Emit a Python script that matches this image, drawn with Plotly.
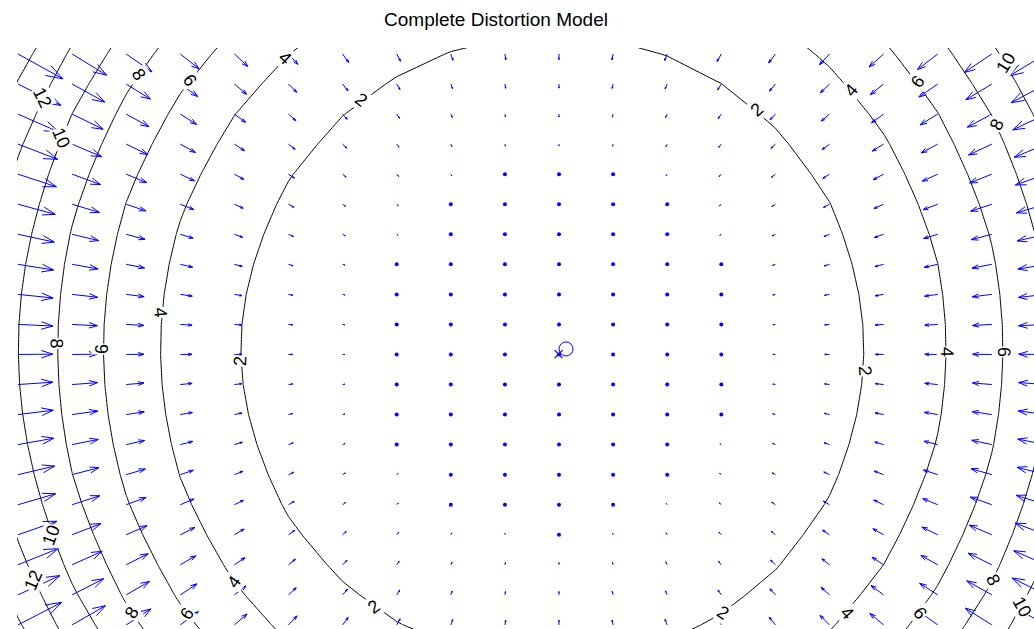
import numpy as np
import plotly.graph_objects as go

# ---------------- data: calibration / distortion model
image_size = [1280, 720]                 # nx, ny  (pixels)
focal_length = [1000.0, 1030.0]          # fc
principal_point = [648.3, 353.4]         # cc  (the 'o')
skew_coeff = 0.0                         # alpha_c
distortion_coeffs = [-0.0396, 0.0, 0.0, -0.000613, 0.0]   # kc = k1 k2 p1 p2 k3
grid_divisions = [20, 20]                # quiver grid in x, y
contour_values = [2, 4, 6, 8, 10, 12, 14]
title_text = "Complete Distortion Model"

# ---------------- layout (screen geometry of the plot area, label rows)
W, H = 1034, 629
PLOT_L, PLOT_T = 17, 48
X_RANGE = [-1.18, 1201.9]
Y_RANGE = [688.9, -7.19]
ARROW_GAIN = 1.08
# screen rows at which each contour level carries a label, per side
LABEL_ROWS = {
    12: [("L", 98), ("L", 580)],
    10: [("L", 138), ("L", 535), ("R", 63), ("R", 607)],
    8: [("L", 74), ("L", 343), ("L", 613), ("R", 125), ("R", 580)],
    6: [("L", 80), ("L", 349), ("L", 614), ("R", 82), ("R", 352), ("R", 613)],
    4: [("L", 58), ("L", 313), ("L", 582), ("R", 90), ("R", 352), ("R", 613)],
    2: [("L", 100), ("L", 361), ("L", 607), ("R", 110), ("R", 371), ("R", 613)],
}

nx, ny = image_size
fc, cc, kc, alpha_c = focal_length, principal_point, distortion_coeffs, skew_coeff


def displacement(px, py):
    """Bouguet complete distortion model: pixel displacement of each point."""
    y = (py - cc[1]) / fc[1]
    x = (px - cc[0]) / fc[0] - alpha_c * y
    r2 = x * x + y * y
    radial = 1 + kc[0] * r2 + kc[1] * r2 ** 2 + kc[4] * r2 ** 3
    dxt = 2 * kc[2] * x * y + kc[3] * (r2 + 2 * x * x)
    dyt = kc[2] * (r2 + 2 * y * y) + 2 * kc[3] * x * y
    xd = x * radial + dxt
    yd = y * radial + dyt
    px2 = fc[0] * (xd + alpha_c * yd) + cc[0]
    py2 = fc[1] * yd + cc[1]
    return px2 - px, py2 - py


def magnitude(px, py):
    du, dv = displacement(px, py)
    return np.sqrt(du * du + dv * dv)


# quiver grid (as in visualize_distortions: 0:nx/20:nx-1)
gx = np.arange(0, nx - 1 + 1e-9, nx / grid_divisions[0])
gy = np.arange(0, ny - 1 + 1e-9, ny / grid_divisions[1])
MX, MY = np.meshgrid(gx, gy)
px, py = MX.ravel(), MY.ravel()
u, v = displacement(px, py)

# MATLAB quiver autoscale
n = np.sqrt(px.size)
delx = (px.max() - px.min()) / n
dely = (py.max() - py.min()) / n
lens = np.sqrt((u ** 2 + v ** 2) / (delx ** 2 + dely ** 2))
scale = 0.9 * 0.9 / lens.max() * ARROW_GAIN
us, vs = u * scale, v * scale

alpha, beta = 0.33, 0.33
sx, sy = [], []
for x0, y0, du, dv in zip(px, py, us, vs):
    sx += [x0, x0 + du, None]
    sy += [y0, y0 + dv, None]
    sx += [x0 + du - alpha * (du + beta * dv), x0 + du, x0 + du - alpha * (du - beta * dv), None]
    sy += [y0 + dv - alpha * (dv - beta * du), y0 + dv, y0 + dv - alpha * (dv + beta * du), None]

short = np.hypot(us, vs) < 1.8

# contour field on the same spacing, extended past the grid edges
cxs = np.arange(-2, grid_divisions[0] + 2) * (nx / grid_divisions[0])
cys = np.arange(-2, grid_divisions[1] + 2) * (ny / grid_divisions[1])
CX, CY = np.meshgrid(cxs, cys)
mag = magnitude(CX, CY)

# screen scales
SX = (W - PLOT_L) / (X_RANGE[1] - X_RANGE[0])
SY = (H - PLOT_T) / (Y_RANGE[0] - Y_RANGE[1])


def row_to_y(row):
    return Y_RANGE[1] + (row - PLOT_T) / SY


BLUE = "#0000ff"
FONT = "Liberation Sans, Arial, Helvetica, sans-serif"

annotations = []
for level, spots in LABEL_ROWS.items():
    for side, row in spots:
        yv = row_to_y(row)
        lo, hi = (-400.0, cc[0]) if side == "L" else (cc[0], 1700.0)
        for _ in range(60):
            mid = 0.5 * (lo + hi)
            f = magnitude(mid, yv) - level
            if side == "L":
                lo, hi = (mid, hi) if f > 0 else (lo, mid)
            else:
                lo, hi = (lo, mid) if f > 0 else (mid, hi)
        xv = 0.5 * (lo + hi)
        h = 0.5
        gxv = (magnitude(xv + h, yv) - magnitude(xv - h, yv)) / (2 * h) / SX
        gyv = (magnitude(xv, yv + h) - magnitude(xv, yv - h)) / (2 * h) / SY
        ang = np.degrees(np.arctan2(gxv, -gyv))
        while ang > 90:
            ang -= 180
        while ang <= -90:
            ang += 180
        # MATLAB clabel rotates by the data-space angle; with 'axis ij' it shows mirrored
        annotations.append(dict(x=xv, y=yv, xref="x", yref="y", text=str(level),
                                showarrow=False, textangle=float(-ang),
                                font=dict(size=18, color="black", family=FONT),
                                bgcolor="white", borderpad=0,
                                xanchor="center", yanchor="middle"))

fig = go.Figure()
fig.add_trace(go.Scatter(x=sx, y=sy, mode="lines", line=dict(color=BLUE, width=1),
                         hoverinfo="skip", showlegend=False))
fig.add_trace(go.Scatter(x=px[short], y=py[short], mode="markers",
                         marker=dict(color=BLUE, size=4, line=dict(width=0)),
                         hoverinfo="skip", showlegend=False))
fig.add_trace(go.Contour(x=cxs, y=cys, z=mag, contours=dict(
    coloring="lines", showlabels=False,
    start=contour_values[0], end=contour_values[-1],
    size=contour_values[1] - contour_values[0]),
    line=dict(width=1, smoothing=0), colorscale=[[0, "black"], [1, "black"]],
    showscale=False, hoverinfo="skip"))
fig.add_trace(go.Scatter(x=[cc[0]], y=[cc[1]], mode="markers",
                         marker=dict(symbol="circle-open", size=14, color=BLUE, line=dict(width=1)),
                         hoverinfo="skip", showlegend=False))
fig.add_trace(go.Scatter(x=[(nx - 1) / 2], y=[(ny - 1) / 2], mode="markers",
                         marker=dict(symbol="x-thin-open", size=8, color=BLUE, line=dict(width=1.2)),
                         hoverinfo="skip", showlegend=False))

fig.update_layout(
    width=W, height=H, autosize=False,
    margin=dict(l=PLOT_L, r=0, t=PLOT_T, b=0, pad=0),
    paper_bgcolor="white", plot_bgcolor="white",
    showlegend=False,
    annotations=annotations,
    title=dict(text=title_text, x=496 / W, xref="container", xanchor="center",
               y=1 - 19 / H, yref="container", yanchor="middle",
               font=dict(size=19, color="black", family=FONT)),
    xaxis=dict(range=X_RANGE, visible=False, showgrid=False, zeroline=False),
    yaxis=dict(range=Y_RANGE, visible=False, showgrid=False, zeroline=False),
)

fig.write_html("out.html", config={"displayModeBar": False},
               post_script="document.body.style.margin='0px';")
